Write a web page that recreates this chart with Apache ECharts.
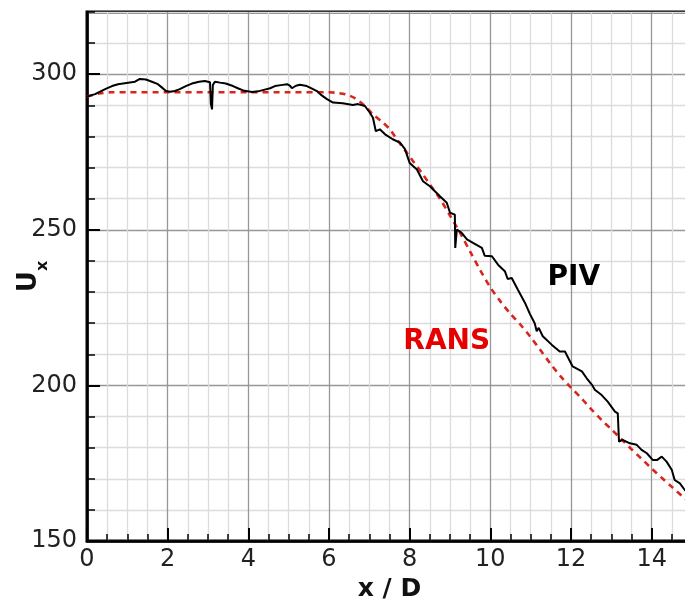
<!DOCTYPE html>
<html>
<head>
<meta charset="utf-8">
<script src="https://cdn.jsdelivr.net/npm/echarts@6/dist/echarts.min.js"></script>
<style>
html,body{margin:0;padding:0;background:#fff;}
#chart{width:685px;height:599px;}
</style>
</head>
<body>
<div id="chart"></div>
<script>
// ---- data ----
const xTickLabels = [0, 2, 4, 6, 8, 10, 12, 14];
const yTickLabels = [150, 200, 250, 300];

const pivX = [0, 0.20, 0.45, 0.62, 0.77, 1.02, 1.19, 1.31, 1.46, 1.61, 1.76, 1.86, 1.96, 2.06, 2.18, 2.30, 2.45, 2.60, 2.78, 2.92, 3.05, 3.07, 3.10, 3.12, 3.17, 3.30, 3.44, 3.62, 3.74, 3.87, 4.09, 4.24, 4.36, 4.54, 4.66, 4.81, 4.96, 5.03, 5.08, 5.18, 5.28, 5.45, 5.58, 5.70, 5.82, 5.95, 6.10, 6.34, 6.59, 6.72, 6.89, 7.01, 7.09, 7.16, 7.26, 7.39, 7.58, 7.76, 7.88, 8.00, 8.18, 8.33, 8.50, 8.75, 8.92, 9.00, 9.12, 9.13, 9.17, 9.29, 9.42, 9.57, 9.79, 9.86, 10.04, 10.19, 10.36, 10.43, 10.53, 10.68, 10.86, 10.98, 11.10, 11.15, 11.20, 11.30, 11.52, 11.72, 11.85, 12.04, 12.27, 12.39, 12.52, 12.59, 12.76, 12.91, 13.09, 13.16, 13.19, 13.28, 13.46, 13.63, 13.75, 13.88, 14.03, 14.13, 14.25, 14.37, 14.50, 14.57, 14.70, 14.82, 14.90];
const pivU = [292.8, 293.6, 295.2, 296.2, 296.8, 297.3, 297.6, 298.5, 298.3, 297.6, 296.8, 295.7, 294.6, 294.4, 294.6, 295.2, 296.2, 297.0, 297.6, 297.8, 297.4, 290.5, 288.7, 296.5, 297.6, 297.3, 297.0, 296.2, 295.5, 294.8, 294.3, 294.5, 294.9, 295.5, 296.2, 296.5, 296.8, 296.3, 295.5, 296.3, 296.6, 296.2, 295.4, 294.6, 293.2, 292.0, 290.9, 290.7, 290.1, 290.4, 289.8, 287.7, 286.0, 281.7, 282.3, 280.7, 279.1, 278.0, 276.0, 271.5, 269.4, 265.6, 264.0, 260.8, 258.7, 255.5, 254.9, 244.2, 250.1, 249.0, 246.9, 245.8, 244.2, 241.7, 241.5, 238.8, 236.7, 234.2, 234.5, 230.8, 226.5, 223.0, 220.0, 217.4, 218.5, 215.8, 213.1, 210.9, 210.9, 206.1, 204.5, 202.3, 200.2, 198.6, 196.9, 194.8, 191.6, 191.0, 181.9, 182.5, 181.4, 180.9, 179.3, 178.2, 176.0, 176.0, 177.1, 175.5, 172.8, 169.6, 168.5, 166.4, 165.5];

const ransX = [0, 0.3, 0.6, 1.0, 2.0, 3.0, 4.0, 5.0, 6.0, 6.2, 6.4, 6.64, 6.89, 7.09, 7.34, 7.51, 7.71, 7.93, 8.08, 8.30, 8.50, 8.75, 9.0, 9.25, 9.5, 9.75, 10.0, 10.25, 10.5, 10.75, 11.0, 11.25, 11.5, 11.75, 12.0, 12.25, 12.5, 12.75, 13.0, 13.25, 13.5, 13.75, 14.0, 14.25, 14.5, 14.75, 15.0];
const ransU = [292.8, 293.8, 294.2, 294.2, 294.2, 294.2, 294.2, 294.2, 294.2, 294.0, 293.6, 292.3, 289.8, 287.1, 284.4, 282.3, 278.6, 274.8, 272.1, 268.3, 264.6, 260.0, 254.6, 249.0, 243.0, 237.0, 231.5, 227.0, 223.0, 219.5, 215.5, 211.2, 206.8, 202.8, 199.3, 196.0, 192.4, 189.0, 185.9, 182.7, 179.5, 176.4, 173.3, 170.3, 167.4, 164.5, 161.7];

const annotText = ['PIV', 'RANS'];
const annotX = [12.07, 8.92];
const annotU = [234.6, 214.0];

// ---- build ----
const zip = (a, b) => a.map((v, i) => [v, b[i]]);
const FONT = 'DejaVu Sans';
const MAJOR = '#979797', MINOR = '#dcdcdc';

const chart = echarts.init(document.getElementById('chart'), null, {renderer: 'canvas'});
chart.setOption({
  animation: false,
  backgroundColor: '#fff',
  grid: {left: 87, top: 12, width: 605, height: 529, show: true, borderColor: '#000', borderWidth: 3,
    containLabel: false, outerBoundsMode: 'none'},
  xAxis: [
    { // minor grid / ticks
      type: 'value', position: 'bottom', min: 0, max: 15, interval: 0.5,
      axisLine: {show: false},
      axisTick: {show: true, inside: true, length: 7, lineStyle: {color: '#000', width: 1.5}},
      axisLabel: {show: false},
      splitLine: {show: true, lineStyle: {color: [MAJOR, MINOR, MINOR, MINOR], width: 1.3}}
    },
    { // major ticks / labels
      type: 'value', position: 'bottom', min: 0, max: 15, interval: 2,
      axisLine: {show: true, lineStyle: {color: '#000', width: 2.5}},
      axisTick: {show: true, inside: true, length: 13, lineStyle: {color: '#000', width: 2}},
      axisLabel: {show: true, margin: 7, fontFamily: FONT, fontSize: 24, color: '#222', showMaxLabel: false,
        formatter: v => xTickLabels.includes(v) ? String(v) : ''},
      splitLine: {show: false},
      name: 'x / D', nameLocation: 'middle', nameGap: 32,
      nameTextStyle: {fontFamily: FONT, fontSize: 25, fontWeight: 'bold', color: '#111'}
    }
  ],
  yAxis: [
    {
      type: 'value', position: 'left', min: 150, max: 320, interval: 10,
      axisLine: {show: false},
      axisTick: {show: true, inside: true, length: 8, lineStyle: {color: '#000', width: 1.5}},
      axisLabel: {show: false},
      splitLine: {show: true, lineStyle: {color: [MAJOR, MINOR, MINOR, MINOR, MINOR], width: 1.3}}
    },
    {
      type: 'value', position: 'left', min: 150, max: 320, interval: 50,
      axisLine: {show: true, lineStyle: {color: '#000', width: 2.5}},
      axisTick: {show: true, inside: true, length: 13, lineStyle: {color: '#000', width: 2}},
      axisLabel: {show: true, margin: 10, fontFamily: FONT, fontSize: 24, color: '#222', showMaxLabel: false,
        formatter: v => yTickLabels.includes(v) ? String(v) : ''},
      splitLine: {show: false},
      name: '{a|U}{b|x}', nameLocation: 'middle', nameGap: 36, nameMoveOverlap: false,
      nameTextStyle: {
        color: '#111',
        rich: {
          a: {fontFamily: FONT, fontSize: 26, fontWeight: 'bold', color: '#111', lineHeight: 44, verticalAlign: 'middle'},
          b: {fontFamily: FONT, fontSize: 16, fontWeight: 'bold', color: '#111', lineHeight: 16, verticalAlign: 'bottom'}
        }
      }
    }
  ],
  series: [
    {
      name: 'RANS', type: 'line', xAxisIndex: 0, yAxisIndex: 0,
      data: zip(ransX, ransU), showSymbol: false, symbol: 'none', smooth: 0.3,
      lineStyle: {color: '#d9261c', width: 2.6, type: [6, 5]}, z: 3
    },
    {
      name: 'PIV', type: 'line', xAxisIndex: 0, yAxisIndex: 0,
      data: zip(pivX, pivU), showSymbol: false, symbol: 'none',
      lineStyle: {color: '#000', width: 2}, z: 4
    },
    {
      type: 'scatter', xAxisIndex: 0, yAxisIndex: 0, symbolSize: 1,
      itemStyle: {color: 'rgba(0,0,0,0)', opacity: 1},
      data: annotText.map((t, i) => ({name: t, value: [annotX[i], annotU[i]],
        label: {color: i === 0 ? '#000' : '#e60000'}})),
      label: {show: true, position: 'inside', formatter: p => p.name,
        fontFamily: FONT, fontSize: 28, fontWeight: 'bold'},
      z: 5, silent: true
    }
  ]
});
</script>
</body>
</html>
